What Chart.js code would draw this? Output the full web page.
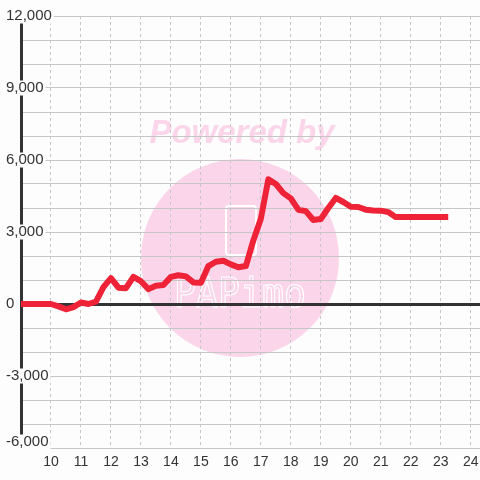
<!DOCTYPE html>
<html>
<head>
<meta charset="utf-8">
<script src="https://cdn.jsdelivr.net/npm/chart.js@4/dist/chart.umd.min.js"></script>
<style>
  html, body { margin: 0; padding: 0; background: #fcfdfc; }
  #wrap { width: 480px; height: 480px; position: relative; }
</style>
</head>
<body>
<div id="wrap"><canvas id="chart" width="480" height="480"></canvas></div>
<script>
// time of day in hours (15 min steps) and the value at each step
const hours = [
  9.00, 9.25, 9.50, 9.75, 10.00, 10.25, 10.50, 10.75, 11.00, 11.25, 11.50, 11.75,
  12.00, 12.25, 12.50, 12.75, 13.00, 13.25, 13.50, 13.75, 14.00, 14.25, 14.50, 14.75,
  15.00, 15.25, 15.50, 15.75, 16.00, 16.25, 16.50, 16.75, 17.00, 17.25, 17.50, 17.75,
  18.00, 18.25, 18.50, 18.75, 19.00, 19.25, 19.50, 19.75, 20.00, 20.25, 20.50, 20.75,
  21.00, 21.25, 21.50, 21.75, 22.00, 22.25, 22.50, 22.75, 23.00, 23.25
];
const values = [
  0, 0, 0, 0, 0, -100, -220, -130, 60, 0, 100, 700,
  1080, 680, 660, 1130, 950, 620, 760, 790, 1130, 1200, 1150, 900,
  880, 1580, 1760, 1800, 1650, 1530, 1580, 2650, 3550, 5200, 5000, 4620,
  4400, 3930, 3870, 3500, 3540, 4000, 4420, 4250, 4050, 4040, 3930, 3900,
  3890, 3830, 3620, 3620, 3620, 3620, 3620, 3620, 3620, 3620
];
const xTicks = [10, 11, 12, 13, 14, 15, 16, 17, 18, 19, 20, 21, 22, 23, 24];
const yLabelStep = 3000;

const BG = '#fcfdfc';
const GRID = '#c6c6c6';
const INK = '#333333';
const PINK = '#fbd5ea';

// watermark behind the grid
const watermark = {
  id: 'watermark',
  beforeDraw(chart) {
    const ctx = chart.ctx;
    ctx.save();
    ctx.fillStyle = BG;
    ctx.fillRect(0, 0, chart.width, chart.height);

    ctx.fillStyle = PINK;
    ctx.beginPath();
    ctx.arc(240, 258, 99, 0, Math.PI * 2);
    ctx.fill();

    ctx.font = 'italic bold 33px "Liberation Sans", Arial, sans-serif';
    ctx.textAlign = 'center';
    ctx.textBaseline = 'middle';
    ctx.fillText('Powered by', 242, 134);

    // logo outline
    ctx.strokeStyle = '#ffffff';
    ctx.lineWidth = 2;
    ctx.beginPath();
    ctx.roundRect(226, 206, 30, 49, 3);
    ctx.stroke();
    ctx.font = '40px "DejaVu Sans Mono", monospace';
    ctx.lineWidth = 1.2;
    ctx.textBaseline = 'alphabetic';
    ctx.strokeText('PAPimo', 240, 307, 132);
    ctx.restore();
  }
};

// last y label sits a little above its line, as in the source
const nudgeLabels = {
  id: 'nudgeLabels',
  afterLayout(chart) {
    const s = chart.scales.y;
    const orig = s._computeLabelItems.bind(s);
    s._computeLabelItems = area => {
      const items = orig(area);
      const first = items[0];
      if (first) {
        first.options.translation[1] -= 6;
      }
      return items;
    };
    s._labelItems = null;
  }
};

const pts = hours.map((h, i) => ({ x: h, y: values[i] }));

new Chart(document.getElementById('chart'), {
  type: 'line',
  data: {
    datasets: [{
      data: pts,
      borderColor: '#ee2338',
      borderWidth: 6,
      borderJoinStyle: 'round',
      pointRadius: 0,
      tension: 0,
      fill: false
    }]
  },
  options: {
    responsive: false,
    animation: false,
    events: [],
    layout: { padding: { top: 16, left: 0, right: 0, bottom: 0 } },
    plugins: { legend: { display: false }, tooltip: { enabled: false } },
    scales: {
      x: {
        type: 'linear',
        min: 9,
        max: 24.31,
        afterBuildTicks: s => { s.ticks = xTicks.map(v => ({ value: v })); },
        afterFit: s => { s.height = 32; s.paddingLeft = 0; s.paddingRight = 0; },
        grid: { color: GRID, lineWidth: 1, drawTicks: false },
        border: { display: false, dash: [3, 3] },
        ticks: {
          color: INK,
          padding: 6,
          maxRotation: 0,
          font: { family: '"Liberation Sans", Arial, sans-serif', size: 14 },
          callback: v => String(v)
        }
      },
      y: {
        min: -6000,
        max: 12000,
        afterFit: s => { s.width = 21; },
        grid: {
          drawTicks: false,
          color: c => c.tick && c.tick.value === 0 ? INK : GRID,
          lineWidth: c => c.tick && c.tick.value === 0 ? 3 : 1
        },
        border: { display: true, color: INK, width: 3 },
        ticks: {
          stepSize: 1000,
          mirror: true,
          padding: -15,
          color: INK,
          font: { family: '"Liberation Sans", Arial, sans-serif', size: 15, lineHeight: 1 },
          showLabelBackdrop: c => c.tick && c.tick.value % yLabelStep === 0,
          backdropColor: BG,
          backdropPadding: { top: 0, bottom: 0, left: 1, right: 2 },
          callback: v => v % yLabelStep === 0 ? v.toLocaleString('en-US') : ''
        }
      }
    }
  },
  plugins: [watermark, nudgeLabels]
});
</script>
</body>
</html>
